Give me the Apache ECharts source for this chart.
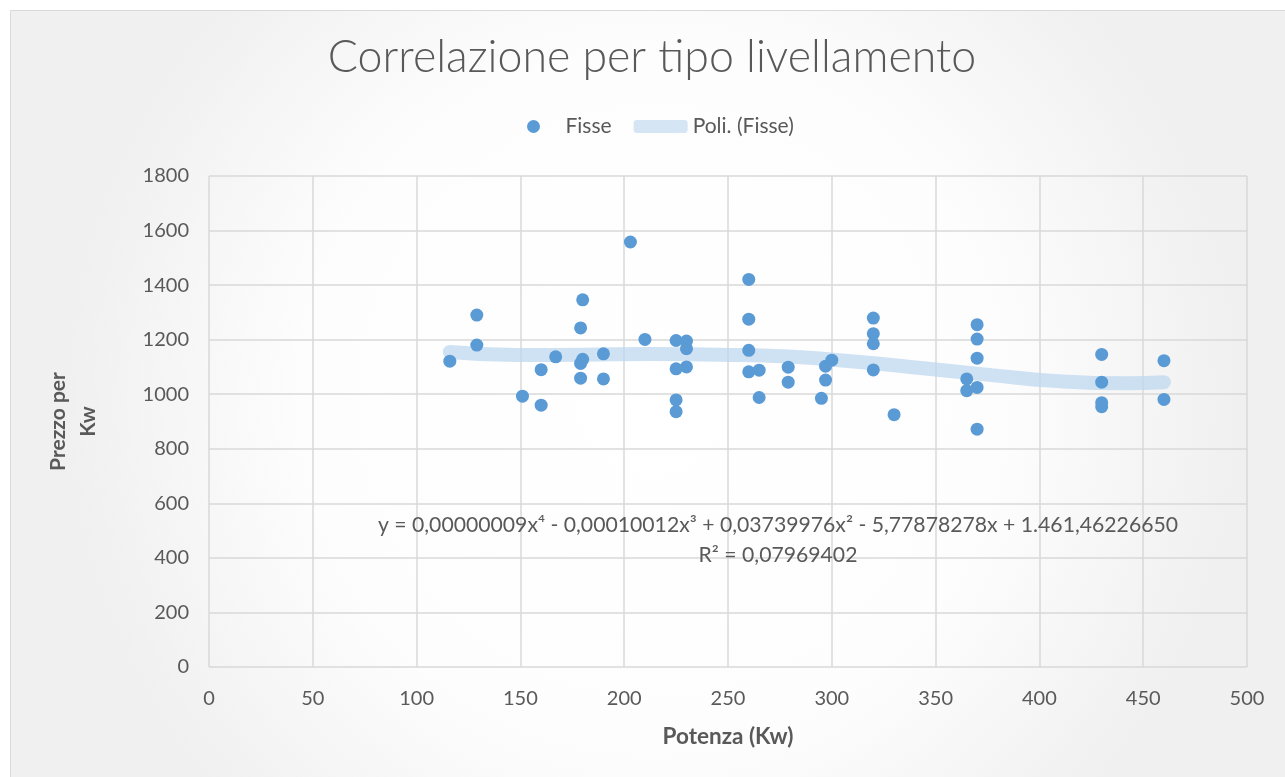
<!DOCTYPE html>
<html><head><meta charset="utf-8">
<script src="https://cdn.jsdelivr.net/npm/echarts@6/dist/echarts.min.js"></script>
<style>html,body{margin:0;padding:0;background:#fff}#c{width:1285px;height:777px}</style>
</head><body><div id="c"></div>
<script>
const potenza = [116,129,129,151,160,160,167,180,179,180,179,179,190,190,203,210,225,230,230,225,230,225,225,260,260,260,260,265,265,279,279,295,297,300,297,320,320,320,320,330,365,365,370,370,370,370,370,430,430,430,430,460,460];
const prezzo  = [1121,1290,1180,993,1090,960,1137,1346,1243,1128,1113,1059,1148,1056,1558,1201,1197,1195,1167,1093,1100,979,936,1421,1275,1161,1082,1088,988,1099,1044,985,1103,1125,1052,1279,1222,1185,1089,925,1056,1013,1255,1202,1132,1025,872,1146,1044,969,954,1123,981];
const trendX = [116,148,181,214,246,279,312,344,377,409,442,460];
const trendY = [1155,1144,1145,1147,1145,1138,1119,1095,1070,1048,1040,1044];
const xTicks = [0,50,100,150,200,250,300,350,400,450,500];
const yTicks = [0,200,400,600,800,1000,1200,1400,1600,1800];
const equation = 'y = 0,00000009x⁴ - 0,00010012x³ + 0,03739976x² - 5,77878278x + 1.461,46226650';
const r2 = 'R² = 0,07969402';

const FONT = 'Lato';
const TXT = '#595959';
const chart = echarts.init(document.getElementById('c'), null, {renderer:'canvas'});
chart.setOption({
  animation:false,
  textStyle:{fontFamily:FONT},
  graphic:[
    {type:'rect', z:-10, silent:true, shape:{x:10.5,y:10.5,width:1285,height:780},
     style:{stroke:'#d9d9d9', lineWidth:1,
       fill:{type:'radial', x:0.5, y:0.5, r:0.75, colorStops:[{offset:0,color:'#ffffff'},{offset:0.6,color:'#fdfdfd'},{offset:1,color:'#f0f0f0'}]}}},
    {type:'text', x:652, y:58, z:10,
     style:{text:'Correlazione per tipo livellamento', fontSize:44.7, fontWeight:300, fontFamily:FONT, fill:TXT, align:'center', verticalAlign:'middle'}},
    {type:'text', x:778, y:540, z:10,
     style:{text:equation+'\n'+r2, fontSize:21.2, fontFamily:FONT, fill:TXT, align:'center', verticalAlign:'middle', lineHeight:30}}
  ],
  legend:{top:111, left:522, itemGap:22, itemWidth:54, itemHeight:13,
    textStyle:{fontSize:21, color:TXT, fontFamily:FONT},
    data:[{name:'Fisse', icon:'circle', itemStyle:{color:'#5b9bd5'}},
          {name:'Poli. (Fisse)', icon:'roundRect'}]},
  grid:{left:209, right:38, top:176, bottom:110},
  xAxis:{type:'value', min:0, max:500, interval:50,
    name:'Potenza (Kw)', nameLocation:'middle', nameGap:70,
    nameTextStyle:{fontSize:22.5, fontWeight:'bold', color:TXT, fontFamily:FONT, verticalAlign:'middle'},
    axisLine:{show:false}, axisTick:{show:false},
    axisLabel:{fontSize:20, color:TXT, margin:22, fontFamily:FONT},
    splitLine:{lineStyle:{color:'#d9d9d9', width:1.5}}},
  yAxis:{type:'value', min:0, max:1800, interval:200,
    name:'Prezzo per\nKw', nameLocation:'middle', nameGap:136, nameRotate:90,
    nameTextStyle:{fontSize:21, fontWeight:'bold', color:TXT, fontFamily:FONT, lineHeight:30, align:'center', verticalAlign:'middle'},
    axisLine:{show:false}, axisTick:{show:false},
    axisLabel:{fontSize:20, color:TXT, margin:20, fontFamily:FONT, formatter:v=>String(v)},
    splitLine:{lineStyle:{color:'#d9d9d9', width:1.5}}},
  series:[
    {name:'Poli. (Fisse)', type:'line', smooth:0.5, symbol:'none', z:1,
     data:trendX.map((x,i)=>[x,trendY[i]]),
     lineStyle:{color:'rgba(189,215,238,0.72)', width:14, cap:'round'},
     itemStyle:{color:'#d6e5f4'}},
    {name:'Fisse', type:'scatter', symbolSize:13, z:3,
     data:potenza.map((x,i)=>[x,prezzo[i]]),
     itemStyle:{color:'#5b9bd5', opacity:1}},
  ]
});
</script></body></html>
